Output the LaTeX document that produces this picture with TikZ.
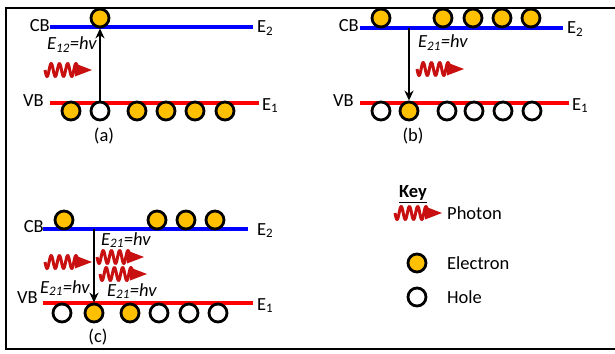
\documentclass[tikz,border=0pt]{standalone}
\usepackage{fontspec}
\setmainfont{Carlito}
\usetikzlibrary{arrows.meta}
\definecolor{eyel}{RGB}{255,192,0}
\definecolor{phred}{RGB}{200,16,16}
\definecolor{cbblue}{RGB}{0,0,255}
\definecolor{vbred}{RGB}{255,0,0}
\tikzset{
  cbline/.style={draw=cbblue, line width=3.5pt},
  vbline/.style={draw=vbred, line width=3.5pt},
  electron/.style={circle, draw=black, line width=2.8pt, fill=eyel, minimum size=18pt, inner sep=0pt},
  hole/.style={electron, fill=white},
  lbl/.style={inner sep=0pt},
  trans/.style={-{Stealth[length=10pt,width=9pt]}, line width=1.8pt},
  photon/.pic={
    \draw[phred, line width=3pt, line join=round]
      plot[domain=0:33, samples=90, smooth] (\x, {6.5*sin(\x*4/33*360)});
    \fill[phred] (30,-6.5) -- (47,0) -- (30,6.5) -- cycle;
  }
}
\begin{document}
\begin{tikzpicture}[x=1pt,y=-1pt, font=\fontsize{18.5}{22}\selectfont]
\useasboundingbox (0,0) rectangle (615,353);
\draw[line width=2.5pt] (625,8) -- (6,8) -- (6,349) -- (625,349);

% ---------- panel (a)
\draw[cbline] (50,27) -- (253,27);
\draw[vbline] (50,103) -- (259,103);
\node[lbl, anchor=east] (aCB) at (50,26) {CB};
\node[lbl, anchor=east] (aVB) at (44,101) {VB};
\node[lbl, anchor=base west] (aE2) at (257,33) {E\textsubscript{2}};
\node[lbl, anchor=base west] (aE1) at (262,110) {E\textsubscript{1}};
\node[electron] (atop) at (100,18) {};
\node[electron] (ab1) at (71,111) {};
\node[hole]     (ab2) at (100,111) {};
\node[electron] (ab3) at (137,111) {};
\node[electron] (ab4) at (166,111) {};
\node[electron] (ab5) at (195,111) {};
\node[electron] (ab6) at (225,111) {};
\draw[trans] (ab2.north) -- (atop.south);
\node[lbl, anchor=base west] (aEl) at (47,50) {\itshape E\textsubscript{12}=hv};
\pic at (45,70) {photon};
\node[lbl] (acap) at (104,136) {(a)};

% ---------- panel (b)
\draw[cbline] (360,28) -- (563,28);
\draw[vbline] (360,103) -- (569,103);
\node[lbl, anchor=east] (bCB) at (359,26) {CB};
\node[lbl, anchor=east] (bVB) at (354,101) {VB};
\node[lbl, anchor=base west] (bE2) at (567,34) {E\textsubscript{2}};
\node[lbl, anchor=base west] (bE1) at (572,110) {E\textsubscript{1}};
\node[electron] (bt1) at (381,18) {};
\node[electron] (bt2) at (443,18) {};
\node[electron] (bt3) at (473,18) {};
\node[electron] (bt4) at (502,18) {};
\node[electron] (bt5) at (531,18) {};
\node[hole]     (bb1) at (381,111) {};
\node[electron] (bb2) at (409,111) {};
\node[hole]     (bb3) at (447,111) {};
\node[hole]     (bb4) at (474,111) {};
\node[hole]     (bb5) at (503,111) {};
\node[hole]     (bb6) at (532,111) {};
\coordinate (bstart) at (409,28);
\draw[trans] (bstart) -- (bb2.north);
\node[lbl, anchor=base west] (bEl) at (418,48) {\itshape E\textsubscript{21}=hv};
\pic at (417,69) {photon};
\node[lbl] (bcap) at (413,136) {(b)};

% ---------- panel (c)
\draw[cbline] (43,229) -- (248,229);
\draw[vbline] (43,303) -- (253,303);
\node[lbl, anchor=east] (cCB) at (44,227) {CB};
\node[lbl, anchor=east] (cVB) at (38,298) {VB};
\node[lbl, anchor=base west] (cE2) at (257,235) {E\textsubscript{2}};
\node[lbl, anchor=base west] (cE1) at (257,310) {E\textsubscript{1}};
\node[electron] (ct1) at (64,220) {};
\node[electron] (ct2) at (157,220) {};
\node[electron] (ct3) at (186,220) {};
\node[electron] (ct4) at (215,220) {};
\node[hole]     (cb1) at (62,313) {};
\node[electron] (cb2) at (94,313) {};
\node[electron] (cb3) at (130,313) {};
\node[hole]     (cb4) at (159,313) {};
\node[hole]     (cb5) at (189,313) {};
\node[hole]     (cb6) at (218,313) {};
\coordinate (cstart) at (94,229);
\draw[trans] (cstart) -- (cb2.north);
\node[lbl, anchor=base west] (cEl1) at (101,245) {\itshape E\textsubscript{21}=hv};
\node[lbl, anchor=base west] (cEl2) at (40,293) {\itshape E\textsubscript{21}=hv};
\node[lbl, anchor=base west] (cEl3) at (107,296) {\itshape E\textsubscript{21}=hv};
\pic at (45,262) {photon};
\pic at (97,257) {photon};
\pic at (100,274) {photon};
\node[lbl] (ccap) at (98,337) {(c)};

% ---------- key
\node[lbl, anchor=west] (key) at (399,194) {\underline{\textbf{Key}}};
\pic at (395,213) {photon};
\node[lbl, anchor=west] (kph) at (447,213) {Photon};
\node[electron] (kel) at (417,263) {};
\node[lbl, anchor=west] (kelt) at (447,263) {Electron};
\node[hole] (kho) at (417,297) {};
\node[lbl, anchor=west] (khot) at (447,297) {Hole};
\end{tikzpicture}
\end{document}
